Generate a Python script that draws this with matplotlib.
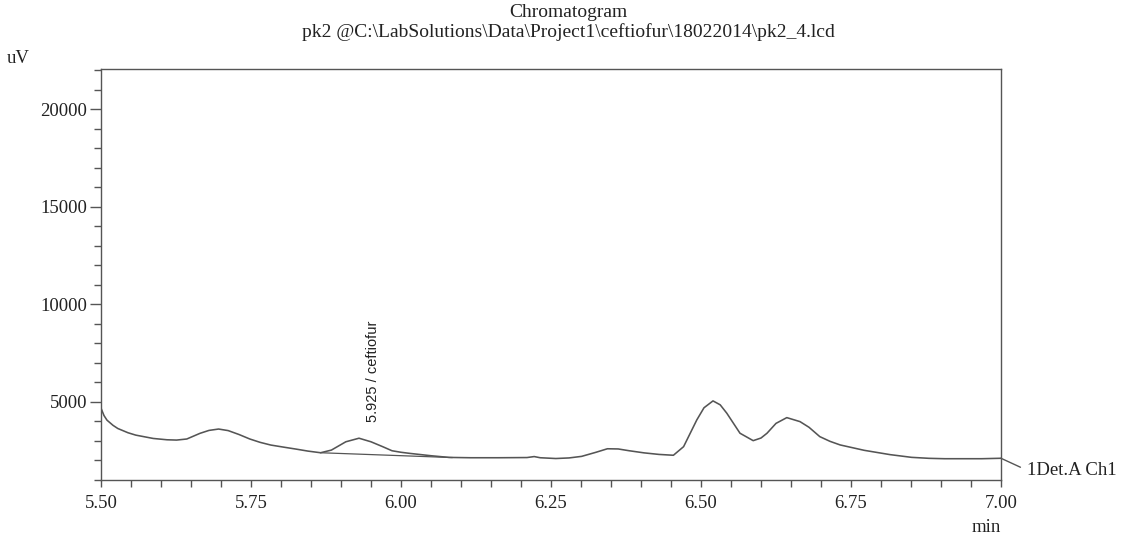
from matplotlib import pyplot
from matplotlib.ticker import MultipleLocator
import numpy

# retention time (min) and signal (uV)
aeg = [5.500, 5.505, 5.510, 5.520, 5.528, 5.545, 5.558, 5.587, 5.610, 5.626,
       5.643, 5.665, 5.680, 5.696, 5.712, 5.730, 5.748, 5.765, 5.783, 5.805,
       5.825, 5.845, 5.866, 5.884, 5.908, 5.930, 5.950, 5.970, 5.985, 6.000,
       6.015, 6.050, 6.080, 6.116, 6.163, 6.210, 6.222, 6.232, 6.258, 6.280,
       6.301, 6.325, 6.344, 6.362, 6.380, 6.405, 6.430, 6.454, 6.471, 6.493,
       6.505, 6.520, 6.532, 6.543, 6.565, 6.587, 6.600, 6.610, 6.625, 6.643,
       6.665, 6.680, 6.698, 6.715, 6.732, 6.772, 6.815, 6.851, 6.880, 6.906,
       6.968, 7.000]
signaal = [4680, 4300, 4064, 3800, 3638, 3420, 3298, 3128, 3060, 3045,
           3100, 3390, 3540, 3610, 3530, 3330, 3100, 2930, 2790, 2680,
           2583, 2480, 2396, 2532, 2957, 3140, 2957, 2700, 2498, 2420,
           2362, 2243, 2157, 2140, 2140, 2150, 2200, 2140, 2100, 2130,
           2210, 2420, 2600, 2590, 2500, 2390, 2310, 2267, 2708, 4077,
           4700, 5051, 4850, 4421, 3395, 3015, 3150, 3395, 3900, 4195,
           3990, 3700, 3221, 2980, 2795, 2520, 2300, 2160, 2110, 2090,
           2090, 2113]

# integration baseline under the ceftiofur peak
baas_x = [5.866, 6.085]
baas_y = [2396, 2150]

piik_aeg = 5.925
piik_nimi = "5.925 / ceftiofur"
pealkiri1 = "Chromatogram"
pealkiri2 = "pk2 @C:\\LabSolutions\\Data\\Project1\\ceftiofur\\18022014\\pk2_4.lcd"
kanal = "1Det.A Ch1"
xticks = [5.50, 5.75, 6.00, 6.25, 6.50, 6.75, 7.00]
yticks = [5000, 10000, 15000, 20000]

pyplot.rcParams["font.family"] = ["Liberation Serif", "DejaVu Serif"]
joon = "#555555"
tekst = "#222222"

fig = pyplot.figure(figsize=(11.37, 5.40), dpi=100)
ax = fig.add_axes([101 / 1137, 1 - 480 / 540, 900 / 1137, 411 / 540])

ax.plot(aeg, signaal, "-", color=joon, lw=1.15)
ax.plot(baas_x, baas_y, "-", color=joon, lw=0.9)

ax.set_xlim(5.5, 7.0)
ax.set_ylim(1000, 22050)
ax.set_xticks(xticks)
ax.set_xticklabels(["%.2f" % t for t in xticks])
ax.xaxis.set_minor_locator(MultipleLocator(0.05))
ax.set_yticks(yticks)
ax.set_yticklabels(["%d" % t for t in yticks])
ax.yaxis.set_minor_locator(MultipleLocator(1000))

for s in ax.spines.values():
    s.set_color(joon)
    s.set_linewidth(1.0)
ax.tick_params(axis="x", which="major", length=5, width=1, color=joon,
               labelsize=13.5, labelcolor=tekst, pad=6)
ax.tick_params(axis="x", which="minor", length=5, width=1, color=joon)
ax.tick_params(axis="y", which="major", length=8, width=1, color=joon,
               labelsize=13.5, labelcolor=tekst, pad=2)
ax.tick_params(axis="y", which="minor", length=5, width=1, color=joon)

ax.text(piik_aeg + 0.028, 3970, piik_nimi, rotation=90, ha="center", va="bottom",
        family=["Liberation Sans", "DejaVu Sans"], fontsize=10.5, color=tekst)

ax.annotate(kanal, xy=(aeg[-1], signaal[-1]), xytext=(26, -12),
            textcoords="offset pixels", ha="left", va="center", fontsize=13.5,
            color=tekst, annotation_clip=False,
            arrowprops=dict(arrowstyle="-", color=joon, lw=1.0,
                            shrinkA=3, shrinkB=0, relpos=(0, 0.5)))

fig.text(0.5, 1 - 17 / 540, pealkiri1, ha="center", va="baseline",
         fontsize=14, color=tekst)
fig.text(0.5, 1 - 37 / 540, pealkiri2, ha="center", va="baseline",
         fontsize=14, color=tekst)
fig.text(7 / 1137, 1 - 63 / 540, "uV", ha="left", va="baseline",
         fontsize=13.5, color=tekst)
fig.text(1001 / 1137, 1 - 527 / 540, "min", ha="right", va="center",
         fontsize=13.5, color=tekst)

pyplot.savefig("out.png")
